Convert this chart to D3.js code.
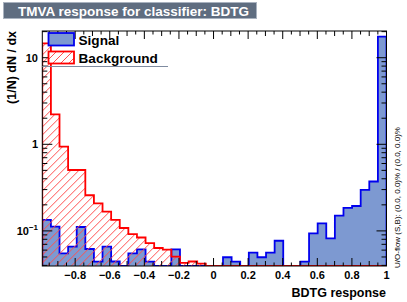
<!DOCTYPE html>
<html><head><meta charset="utf-8">
<script src="https://cdn.jsdelivr.net/npm/d3@7"></script>
<style>
html,body{margin:0;padding:0;background:#fff;}
svg{display:block;font-family:"Liberation Sans",Arial,sans-serif;}
</style></head>
<body><svg id="c" width="407" height="302"></svg>
<script>
// ---- data ----
const xRange = [-0.99, 1.0];
const nBins = 40;
const signal = [0.134,0.112,0.0551,0.0657,0.111,0.0618,0.0441,0.0657,0.0443,0,
                0.0551,0.0613,0.0441,0,0,0.0613,0,0,0,0,
                0,0.0496,0.0441,0,0.056,0.0496,0.056,0.077,0,0,
                0.0441,0.0938,0.122,0.0822,0.150,0.184,0.194,0.297,0.372,17.5];
const background = [14.6,2.22,0.938,0.505,0.505,0.258,0.208,0.167,0.134,0.108,
                    0.092,0.0839,0.0724,0.0635,0.0608,0.0504,0.0427,0.0443,0.0418,0,
                    0,0,0,0,0,0,0,0,0,0,
                    0,0,0,0,0,0,0,0,0,0];
const xTickLabels = ["−0.8","−0.6","−0.4","−0.2","0","0.2","0.4","0.6","0.8","1"];
const xTickValues = [-0.8,-0.6,-0.4,-0.2,0,0.2,0.4,0.6,0.8,1];
const yTickValues = [0.1,1,10];
const yDomain = [0.03933, 20.34];
const seriesNames = ["Signal","Background"];

// ---- layout ----
const L=42.3, R=386.5, T=31, B=266;
const svg=d3.select("#c");
const x=d3.scaleLinear().domain(xRange).range([L,R]);
const y=d3.scaleLog().domain(yDomain).range([B,T]);
const bw=(xRange[1]-xRange[0])/nBins;

function stepPath(vals){
  let d=`M${x(xRange[0])},${B}`;
  vals.forEach((v,i)=>{
    const yy = v>0 ? Math.max(T, y(v)) : B;
    d+=`L${x(xRange[0]+i*bw)},${yy}L${x(xRange[0]+(i+1)*bw)},${yy}`;
  });
  d+=`L${x(xRange[1])},${B}`;
  return d;
}

const defs=svg.append("defs");
defs.append("clipPath").attr("id","frameclip").append("rect")
  .attr("x",L).attr("y",T).attr("width",R-L).attr("height",B-T);
defs.append("clipPath").attr("id","bgclip").append("path").attr("d",stepPath(background)+"Z");
defs.append("clipPath").attr("id","legclip").append("rect")
  .attr("x",48.5).attr("y",51.5).attr("width",25.5).attr("height",12);

function hatch(sel, x0, y0, x1, y1){
  const h=y1-y0, step=8;
  for(let k=-h; k<(x1-x0)+step; k+=step){
    sel.append("line").attr("x1",x0+k).attr("y1",y1).attr("x2",x0+k+h).attr("y2",y0)
      .attr("stroke","#ff5050").attr("stroke-width",1);
  }
}

const g=svg.append("g").attr("clip-path","url(#frameclip)");
g.append("path").attr("d",stepPath(signal)+"Z").attr("fill","#7d99d1").attr("stroke","none");
g.append("path").attr("d",stepPath(signal)).attr("fill","none").attr("stroke","#0000ee").attr("stroke-width",1.8);
const hg=g.append("g").attr("clip-path","url(#bgclip)");
hatch(hg, L, T, R, B);
g.append("path").attr("d",stepPath(background)).attr("fill","none").attr("stroke","#ff0000").attr("stroke-width",1.8);

// frame
svg.append("rect").attr("x",L).attr("y",T).attr("width",R-L).attr("height",B-T)
  .attr("fill","none").attr("stroke","#000").attr("stroke-width",1);

// x ticks (bottom and top)
const xMinor=d3.range(-0.95,1.0001,0.05).map(v=>+v.toFixed(2));
const ax=svg.append("g").attr("stroke","#000").attr("stroke-width",1);
xMinor.forEach(v=>{
  const isMaj = Math.abs(Math.round(v*5)-v*5)<1e-6;
  const isMid = !isMaj && Math.abs(Math.round(v*10)-v*10)<1e-6;
  const len = isMaj?8:(isMid?5:3.5);
  const xx=x(v);
  if(xx<L||xx>R+0.5) return;
  ax.append("line").attr("x1",xx).attr("x2",xx).attr("y1",B).attr("y2",B-len);
  ax.append("line").attr("x1",xx).attr("x2",xx).attr("y1",T).attr("y2",T+len);
});
// y ticks (left and right)
const yMinor=[];
[0.01,0.1,1,10].forEach(dec=>{for(let k=1;k<10;k++){const v=dec*k; if(v>=yDomain[0]&&v<=yDomain[1]) yMinor.push(v);}});
yMinor.forEach(v=>{
  const isMaj = yTickValues.some(t=>Math.abs(t-v)/t<1e-6);
  const len = isMaj?10:5;
  const yy=y(v);
  ax.append("line").attr("x1",L).attr("x2",L+len).attr("y1",yy).attr("y2",yy);
  ax.append("line").attr("x1",R).attr("x2",R-len).attr("y1",yy).attr("y2",yy);
});

// x tick labels
const lab=svg.append("g").attr("font-size",11).attr("font-weight","bold").attr("fill","#000");
xTickValues.forEach((v,i)=>{
  lab.append("text").attr("x",x(v)).attr("y",279).attr("text-anchor","middle").text(xTickLabels[i]);
});
// y tick labels
lab.append("text").attr("x",38).attr("y",y(10)+4).attr("text-anchor","end").text("10");
lab.append("text").attr("x",38).attr("y",y(1)+4).attr("text-anchor","end").text("1");
const t01=lab.append("text").attr("x",38).attr("y",y(0.1)+4).attr("text-anchor","end");
t01.append("tspan").text("10");
t01.append("tspan").attr("dy",-5).attr("font-size",8).text("−1");

// axis titles
svg.append("text").attr("x",386).attr("y",297).attr("text-anchor","end")
  .attr("font-size",12.5).attr("font-weight","bold").text("BDTG response");
svg.append("text").attr("transform","translate(16,31) rotate(-90)").attr("text-anchor","end")
  .attr("font-size",12.5).attr("font-weight","bold").text("(1/N) dN / dx");

// overflow text
svg.append("text").attr("transform","translate(400,268) rotate(-90)").attr("text-anchor","start")
  .attr("font-size",8).attr("fill","#000").text("U/O-flow (S,B): (0.0, 0.0)% / (0.0, 0.0)%");

// title box
svg.append("rect").attr("x",3.5).attr("y",2.5).attr("width",253).attr("height",16)
  .attr("fill","#5f6d80").attr("stroke","#a9b2bf").attr("stroke-width",1);
svg.append("text").attr("x",18).attr("y",15.5).attr("font-size",13.5).attr("font-weight","bold")
  .attr("fill","#fff").text("TMVA response for classifier: BDTG");

// legend
const lg=svg.append("g");
lg.append("line").attr("x1",L).attr("x2",168).attr("y1",66.5).attr("y2",66.5).attr("stroke","#7f8ba0").attr("stroke-width",1);
lg.append("rect").attr("x",48.5).attr("y",33).attr("width",25.5).attr("height",12.5)
  .attr("fill","#7d99d1").attr("stroke","#0000ee").attr("stroke-width",1.8);
lg.append("rect").attr("x",48.5).attr("y",51.5).attr("width",25.5).attr("height",12)
  .attr("fill","#fff").attr("stroke","none");
const lh=lg.append("g").attr("clip-path","url(#legclip)");
hatch(lh, 48.5, 51.5, 74, 63.5);
lg.append("rect").attr("x",48.5).attr("y",51.5).attr("width",25.5).attr("height",12)
  .attr("fill","none").attr("stroke","#ff0000").attr("stroke-width",1.8);
lg.append("text").attr("x",78.5).attr("y",44.5).attr("font-size",13.6).attr("font-weight","bold").text(seriesNames[0]);
lg.append("text").attr("x",78.5).attr("y",62.5).attr("font-size",13.6).attr("font-weight","bold").text(seriesNames[1]);
</script></body></html>
